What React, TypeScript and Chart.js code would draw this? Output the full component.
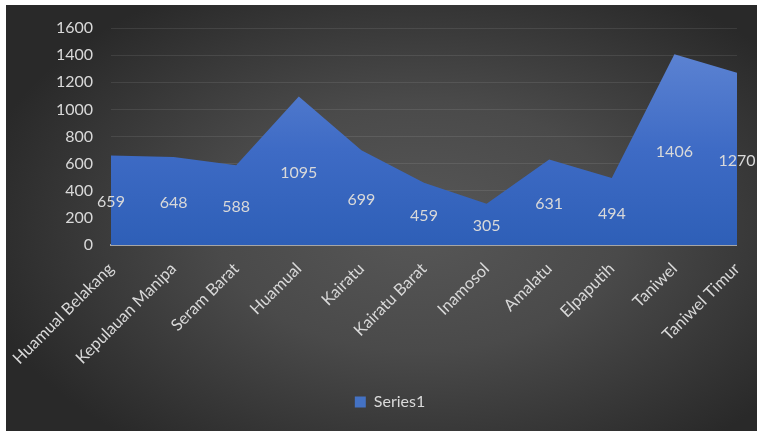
import React, { useEffect, useRef } from "react";
import { Chart, registerables } from "chart.js";

Chart.register(...registerables);

const categories = [
  "Huamual Belakang",
  "Kepulauan Manipa",
  "Seram Barat",
  "Huamual",
  "Kairatu",
  "Kairatu Barat",
  "Inamosol",
  "Amalatu",
  "Elpaputih",
  "Taniwel",
  "Taniwel Timur",
];
const values = [659, 648, 588, 1095, 699, 459, 305, 631, 494, 1406, 1270];
const yTicks = [0, 200, 400, 600, 800, 1000, 1200, 1400, 1600];
const seriesName = "Series1";

const FONT = "Lato, 'Open Sans', sans-serif";
const TEXT = "#d9d9d9";

const midLabels = {
  id: "midLabels",
  afterDatasetsDraw(chart: any) {
    const ctx = chart.ctx;
    const xs = chart.scales.x;
    const ys = chart.scales.y;
    ctx.save();
    ctx.font = `16px ${FONT}`;
    ctx.fillStyle = TEXT;
    ctx.textAlign = "center";
    ctx.textBaseline = "middle";
    values.forEach((v, i) => {
      ctx.fillText(String(v), xs.getPixelForValue(i), ys.getPixelForValue(v / 2) + 2);
    });
    ctx.restore();
  },
};

export default function App() {
  const ref = useRef<HTMLCanvasElement>(null);
  useEffect(() => {
    if (!ref.current) return;
    const chart = new Chart(ref.current, {
      type: "line",
      data: {
        labels: categories,
        datasets: [
          {
            label: seriesName,
            data: values,
            fill: "origin",
            borderWidth: 0,
            pointRadius: 0,
            tension: 0,
            backgroundColor: (c: any) => {
              const ch = c.chart;
              const area = ch.chartArea;
              if (!area || !ch.scales.y) return "#4472c4";
              const top = ch.scales.y.getPixelForValue(Math.max(...values));
              const g = ch.ctx.createLinearGradient(0, top, 0, area.bottom);
              g.addColorStop(0, "#5b82d2");
              g.addColorStop(0.5, "#3e6bc5");
              g.addColorStop(1, "#2e5fb7");
              return g;
            },
          },
        ],
      },
      options: {
        animation: false,
        responsive: false,
        devicePixelRatio: 1,
        layout: { padding: { left: 34, right: 17, top: 23, bottom: 11 } },
        scales: {
          x: {
            type: "category",
            offset: false,
            grid: { display: false },
            border: { display: true, color: "#a6a6a6", width: 2 },
            ticks: {
              color: TEXT,
              font: { family: FONT, size: 16.5 },
              minRotation: 45,
              maxRotation: 45,
              autoSkip: false,
              padding: 6,
            },
            afterFit: (s: any) => {
              s.height = 139;
            },
          },
          y: {
            min: 0,
            max: 1600,
            afterBuildTicks: (s: any) => {
              s.ticks = yTicks.map((v) => ({ value: v }));
            },
            ticks: {
              color: TEXT,
              font: { family: FONT, size: 16 },
              padding: 18,
              callback: (v: any) => String(v),
            },
            grid: { color: "rgba(255,255,255,0.09)", drawTicks: false, lineWidth: 1 },
            border: { display: false },
            afterFit: (s: any) => {
              s.width = 71;
              s.paddingTop = 0;
              s.paddingBottom = 0;
            },
          },
        },
        plugins: {
          tooltip: { enabled: false },
          legend: {
            display: true,
            position: "bottom",
            labels: {
              color: TEXT,
              font: { family: FONT, size: 16 },
              boxWidth: 11,
              boxHeight: 11,
              padding: 10,
              generateLabels: (ch: any) => {
                const items = (Chart.defaults.plugins.legend.labels as any).generateLabels(ch);
                items.forEach((it: any) => {
                  it.fillStyle = "#4472c4";
                  it.strokeStyle = "#4472c4";
                  it.lineWidth = 0;
                  it.fontColor = TEXT;
                });
                return items;
              },
            },
          },
        },
      },
      plugins: [midLabels],
    });
    return () => chart.destroy();
  }, []);

  return (
    <div
      style={{
        position: "absolute",
        left: 6,
        top: 5,
        width: 751,
        height: 426,
        background:
          "radial-gradient(ellipse 60% 65% at 55% 52%, #575757 0%, #4a4a4a 45%, #353535 80%, #292929 100%)",
        backgroundColor: "#292929",
      }}
    >
      <canvas ref={ref} width={751} height={426} style={{ display: "block" }} />
    </div>
  );
}
